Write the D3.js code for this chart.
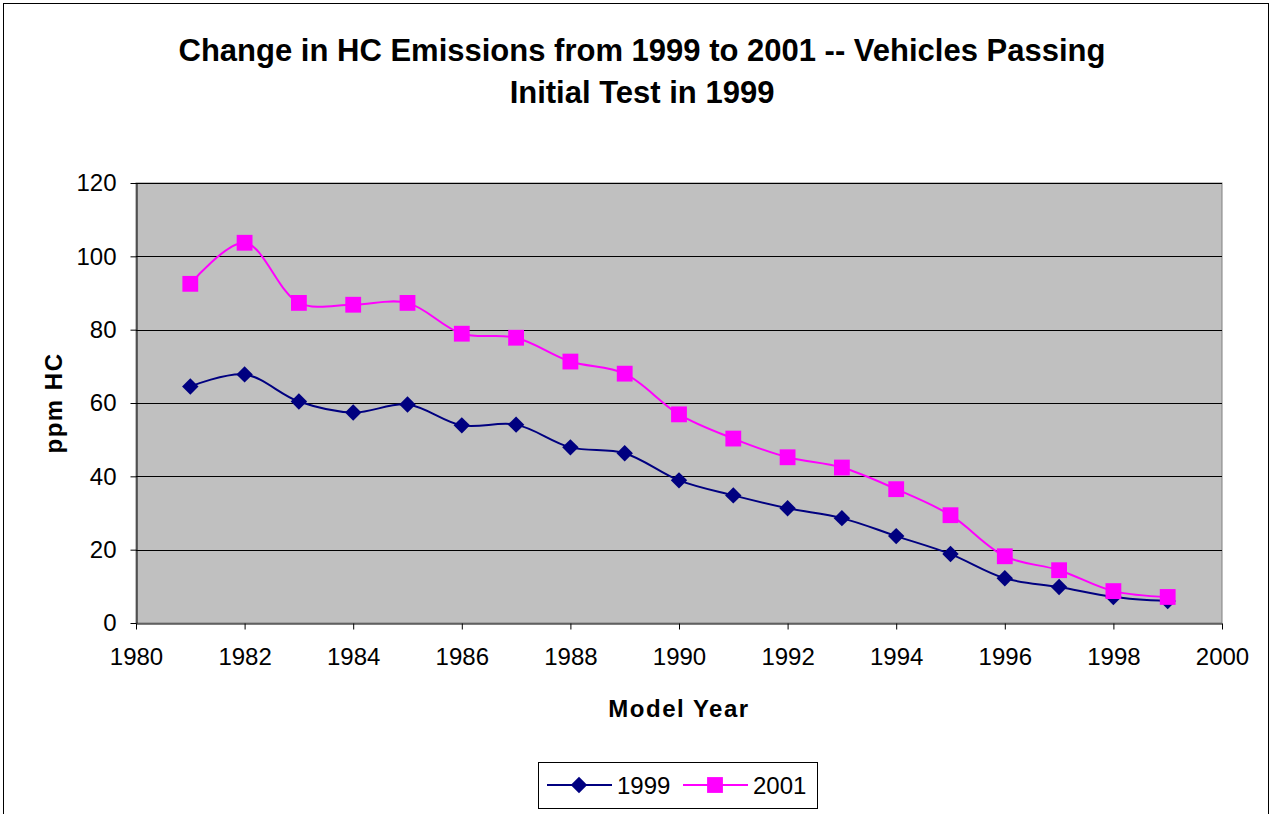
<!DOCTYPE html>
<html>
<head>
<meta charset="utf-8">
<script src="https://cdn.jsdelivr.net/npm/d3@7"></script>
<style>
  body { margin: 0; background: #fff; }
  text { font-family: "Liberation Sans", Arial, sans-serif; }
</style>
</head>
<body>
<svg id="chart" width="1273" height="814"></svg>
<script>
const years = [1981, 1982, 1983, 1984, 1985, 1986, 1987, 1988, 1989, 1990,
    1991, 1992, 1993, 1994, 1995, 1996, 1997, 1998, 1999];
const hc1999 = [64.5, 67.8, 60.4, 57.4, 59.6, 53.9, 54.1, 47.9, 46.3, 38.9,
    34.8, 31.3, 28.6, 23.7, 18.8, 12.2, 9.8, 7.1, 6.0];
const hc2001 = [92.5, 103.7, 87.3, 86.8, 87.3, 78.9, 77.8, 71.3, 68.0, 56.9,
    50.3, 45.2, 42.4, 36.5, 29.4, 18.2, 14.4, 8.7, 7.1];
const xTicks = [1980, 1982, 1984, 1986, 1988, 1990, 1992, 1994, 1996, 1998, 2000];
const yTicks = [0, 20, 40, 60, 80, 100, 120];

const series = [
    { name: '1999', values: hc1999, color: '#000080', shape: 'diamond' },
    { name: '2001', values: hc2001, color: '#FF00FF', shape: 'square' }
];

// Excel-style markers: diamond is a square turned 45 degrees
const marker = shape => shape === 'diamond'
    ? d3.symbol().type(d3.symbolSquare).size(135)()
    : d3.symbol().type(d3.symbolSquare).size(250)();
const markerRot = shape => shape === 'diamond' ? ' rotate(45)' : '';

const svg = d3.select('#chart');

// outer chart frame
svg.append('rect')
    .attr('x', 3.5).attr('y', 3.5)
    .attr('width', 1265).attr('height', 820)
    .attr('fill', 'none').attr('stroke', '#000').attr('stroke-width', 1);

const plot = { left: 136, top: 183, right: 1222, bottom: 623 };

const x = d3.scaleLinear().domain([1980, 2000]).range([plot.left, plot.right]);
const y = d3.scaleLinear().domain([0, 120]).range([plot.bottom, plot.top]);

// plot background
svg.append('rect')
    .attr('x', plot.left).attr('y', plot.top)
    .attr('width', plot.right - plot.left).attr('height', plot.bottom - plot.top)
    .attr('fill', '#C0C0C0').attr('stroke', '#808080').attr('stroke-width', 1);

// gridlines
svg.append('g')
    .selectAll('line')
    .data(yTicks.filter(d => d > 0))
    .enter()
    .append('line')
    .attr('x1', plot.left).attr('x2', plot.right)
    .attr('y1', d => Math.round(y(d)) + 0.5).attr('y2', d => Math.round(y(d)) + 0.5)
    .attr('stroke', '#000').attr('stroke-width', 1);

// axes
const xAxis = svg.append('g')
    .attr('transform', `translate(0,${plot.bottom + 0.5})`)
    .call(d3.axisBottom(x).tickValues(xTicks).tickFormat(d3.format('d')).tickSizeInner(6).tickSizeOuter(0).tickPadding(18));
const yAxis = svg.append('g')
    .attr('transform', `translate(${plot.left + 0.5},0)`)
    .call(d3.axisLeft(y).tickValues(yTicks).tickSizeInner(6).tickSizeOuter(0).tickPadding(14));

[xAxis, yAxis].forEach(a => {
    a.select('.domain').attr('stroke', '#000');
    a.selectAll('.tick line').attr('stroke', '#000');
    a.selectAll('.tick text')
        .attr('fill', '#000')
        .style('font-size', '24px')
        .style('font-family', '"Liberation Sans", Arial, sans-serif');
});

// lines and markers
const line = d3.line()
    .x((d, i) => x(years[i]))
    .y(d => y(d))
    .curve(d3.curveCatmullRom.alpha(0.5));

series.forEach(s => {
    svg.append('path')
        .datum(s.values)
        .attr('d', line)
        .attr('fill', 'none')
        .attr('stroke', s.color)
        .attr('stroke-width', 2);
});

series.forEach(s => {
    svg.append('g')
        .selectAll('path')
        .data(s.values)
        .enter()
        .append('path')
        .attr('transform', (d, i) => `translate(${x(years[i])},${y(d)})${markerRot(s.shape)}`)
        .attr('d', marker(s.shape))
        .attr('fill', s.color);
});

// title
const title = svg.append('text')
    .attr('text-anchor', 'middle')
    .style('font-weight', 'bold')
    .style('font-size', '31px');
title.append('tspan').attr('x', 642).attr('y', 61)
    .text('Change in HC Emissions from 1999 to 2001 -- Vehicles Passing');
title.append('tspan').attr('x', 642).attr('y', 103)
    .text('Initial Test in 1999');

// axis titles
svg.append('text')
    .attr('x', x(1990)).attr('y', 717)
    .attr('text-anchor', 'middle')
    .style('font-weight', 'bold').style('font-size', '24px').style('letter-spacing', '1.5px')
    .text('Model Year');
svg.append('text')
    .attr('transform', `translate(62,${y(60)}) rotate(-90)`)
    .attr('text-anchor', 'middle')
    .style('font-weight', 'bold').style('font-size', '24px').style('letter-spacing', '1.5px')
    .text('ppm HC');

// legend
const legend = svg.append('g');
legend.append('rect')
    .attr('x', 538.5).attr('y', 762.5)
    .attr('width', 279).attr('height', 46)
    .attr('fill', '#fff').attr('stroke', '#000').attr('stroke-width', 1);

const legendItems = legend.selectAll('g')
    .data(series)
    .enter()
    .append('g')
    .attr('transform', (d, i) => `translate(${547 + i * 136},785)`);
legendItems.append('line')
    .attr('x1', 0).attr('x2', 65)
    .attr('stroke', d => d.color).attr('stroke-width', 2);
legendItems.append('path')
    .attr('transform', d => `translate(32,0)${markerRot(d.shape)}`)
    .attr('d', d => marker(d.shape))
    .attr('fill', d => d.color);
legendItems.append('text')
    .attr('x', 70).attr('y', 9)
    .style('font-size', '24px')
    .text(d => d.name);
</script>
</body>
</html>
